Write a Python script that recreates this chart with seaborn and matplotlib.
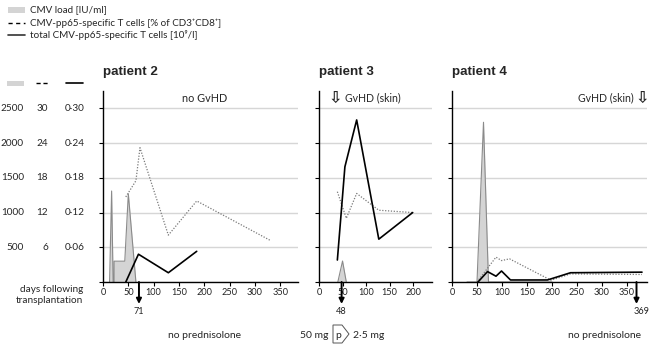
#!/usr/bin/env python3
# CMV load and CMV-pp65-specific T cells in three patients

import numpy as np
import pandas as pd
import matplotlib
matplotlib.use('Agg')
import matplotlib.pyplot as plt
import matplotlib.transforms as mtransforms
from matplotlib.lines import Line2D
from matplotlib.patches import Rectangle, Polygon
import seaborn as sns

sns.set_theme(style='ticks')
plt.rcParams['font.family'] = ['Lato', 'DejaVu Sans']

W, H = 650, 344

# ---- data ----
# patient 2
p2_load_day = [13, 17, 20, 22, 22, 43, 50, 65]
p2_load = [0, 1310, 0, 0, 300, 300, 1270, 0]              # IU/ml
p2_pct_day = [45, 65, 73, 129, 185, 330]
p2_pct = [14.7, 17.5, 23.2, 8.1, 14.0, 7.2]               # % of CD3+CD8+
p2_cell_day = [45, 70, 129, 185]
p2_cell = [0.0, 0.048, 0.016, 0.053]                      # 10^9/l

# patient 3
p3_load_day = [40, 50, 58]
p3_load = [0, 302, 0]
p3_pct_day = [39, 58, 80, 127, 199]
p3_pct = [15.6, 11.0, 15.3, 12.4, 12.0]
p3_cell_day = [39, 55, 80, 127, 199]
p3_cell = [0.038, 0.199, 0.280, 0.074, 0.120]

# patient 4
p4_load_day = [30, 50, 63, 73, 200]
p4_load = [0, 0, 2300, 0, 0]
p4_pct_day = [50, 88, 99, 115, 198, 237, 380]
p4_pct = [0.0, 4.3, 3.7, 4.0, 0.3, 1.4, 1.3]
p4_cell_day = [52, 71, 88, 99, 117, 191, 237, 380]
p4_cell = [0.0, 0.018, 0.010, 0.019, 0.0035, 0.0035, 0.016, 0.017]

load_ticks = [500, 1000, 1500, 2000, 2500]
pct_ticks = [6, 12, 18, 24, 30]
cell_ticks = [0.06, 0.12, 0.18, 0.24, 0.30]

titles = ['patient 2', 'patient 3', 'patient 4']
gvhd_day = [71, 48, 369]
xmax = [385, 240, 390]

PCT_SCALE = 2500 / 30
CELL_SCALE = 2500 / 0.30

def fx(px):
    return px / W

def fy(py):
    return 1 - py / H

fig = plt.figure(figsize=(6.5, 3.44), dpi=100)
bottom, height = fy(282), 191 / H
ax2 = fig.add_axes([fx(103), bottom, 195 / W, height])
ax3 = fig.add_axes([fx(319), bottom, 113 / W, height])
ax4 = fig.add_axes([fx(452), bottom, 195 / W, height])
axes = [ax2, ax3, ax4]

panels = [
    (p2_load_day, p2_load, p2_pct_day, p2_pct, p2_cell_day, p2_cell),
    (p3_load_day, p3_load, p3_pct_day, p3_pct, p3_cell_day, p3_cell),
    (p4_load_day, p4_load, p4_pct_day, p4_pct, p4_cell_day, p4_cell),
]

for i, (ax, pdata) in enumerate(zip(axes, panels)):
    ld, lv, pd_, pv, cd, cv = pdata
    ax.fill_between(ld, lv, color='#d4d4d4', lw=0, zorder=1)
    sns.lineplot(x=ld, y=lv, ax=ax, color='#8a8a8a', lw=0.8,
                 sort=False, estimator=None, zorder=2)
    sns.lineplot(x=pd_, y=np.array(pv) * PCT_SCALE, ax=ax, color='#7a7a7a',
                 lw=0.9, linestyle=(0, (1, 1.3)), sort=False, estimator=None, zorder=3)
    sns.lineplot(x=cd, y=np.array(cv) * CELL_SCALE, ax=ax, color='black',
                 lw=1.2, sort=False, estimator=None, zorder=4)

    ax.set_xlim(0, xmax[i])
    ax.set_ylim(0, 2750)
    ax.set_yticks([0] + load_ticks)
    ax.set_yticklabels([])
    ax.set_xticks(list(range(0, xmax[i] - 20, 50)))
    ax.tick_params(axis='both', direction='out', length=3, width=0.8,
                   colors='black', labelsize=6.6, pad=1.5)
    ax.tick_params(axis='x', labelcolor='#222222')
    ax.yaxis.grid(True, color='#d6d6d6', lw=1)
    ax.set_axisbelow(True)
    ax.set_xlabel('')
    ax.set_ylabel('')
    for s in ['top', 'right']:
        ax.spines[s].set_visible(False)
    for s in ['left', 'bottom']:
        ax.spines[s].set_color('black')
        ax.spines[s].set_linewidth(1)
        ax.spines[s].set_zorder(5)

    ax.text(0, 1.10, titles[i], transform=ax.transAxes, ha='left', va='center',
            fontsize=9.6, fontweight='bold', family=['Liberation Sans', 'DejaVu Sans'])

    # day of the event below the axis
    xt = ax.get_xaxis_transform()
    ax.annotate('', xy=(gvhd_day[i], -0.115), xytext=(gvhd_day[i], 0), xycoords=xt,
                textcoords=xt, annotation_clip=False,
                arrowprops=dict(arrowstyle='-|>', color='black', lw=1.4,
                                mutation_scale=7.5, shrinkA=0, shrinkB=0))
    if i == 2:
        ax.text(gvhd_day[i] + 26, -0.152, str(gvhd_day[i]), transform=xt,
                ha='right', va='center', fontsize=6.6, color='#222222')
    else:
        ax.text(gvhd_day[i], -0.152, str(gvhd_day[i]), transform=xt,
                ha='center', va='center', fontsize=6.6, color='#222222')

# GvHD notes
ax2.text(0.52, 0.963, 'no GvHD', transform=ax2.transAxes, ha='center', va='center', fontsize=7.8)
ax3.text(0.145, 0.963, '\u21e9', transform=ax3.transAxes, ha='center', va='center',
         fontsize=11.5, fontweight='bold', family='DejaVu Sans')
ax3.text(0.23, 0.963, 'GvHD (skin)', transform=ax3.transAxes, ha='left', va='center', fontsize=7.6)
ax4.text(0.975, 0.963, '\u21e9', transform=ax4.transAxes, ha='center', va='center',
         fontsize=11.5, fontweight='bold', family='DejaVu Sans')
ax4.text(0.93, 0.963, 'GvHD (skin)', transform=ax4.transAxes, ha='right', va='center', fontsize=7.6)

# three y-label columns on the left
tr = mtransforms.blended_transform_factory(fig.transFigure, ax2.transData)
for lv, pv, cv in zip(load_ticks, pct_ticks, cell_ticks):
    fig.text(fx(24), lv, str(lv), transform=tr, ha='right', va='center', fontsize=7.2)
    fig.text(fx(48), lv, str(pv), transform=tr, ha='right', va='center', fontsize=7.2)
    fig.text(fx(85), lv, f'{cv:.2f}'.replace('.', '\u00b7'), transform=tr,
             ha='right', va='center', fontsize=7.2)

fig.patches.append(Rectangle((fx(7), fy(86)), 17 / W, 5 / H, transform=fig.transFigure,
                             facecolor='#d4d4d4', edgecolor='none'))
fig.lines.append(Line2D([fx(36), fx(49)], [fy(83), fy(83)], transform=fig.transFigure,
                        color='black', lw=1, linestyle=(0, (3, 2))))
fig.lines.append(Line2D([fx(66), fx(83)], [fy(83), fy(83)], transform=fig.transFigure,
                        color='black', lw=1.2))

fig.text(fx(83), fy(295), 'days following\ntransplantation', ha='right', va='center',
         fontsize=7.2, linespacing=1.15)

# legend at the top
leg_labels = ['CMV load [IU/ml]',
              'CMV-pp65-specific T cells [% of CD3\u207aCD8\u207a]',
              'total CMV-pp65-specific T cells [10\u2079/l]']
rows = [10, 23, 35]
fig.patches.append(Rectangle((fx(8), fy(12.7)), 17 / W, 5.4 / H, transform=fig.transFigure,
                             facecolor='#d4d4d4', edgecolor='none'))
fig.lines.append(Line2D([fx(8), fx(25)], [fy(rows[1]), fy(rows[1])], transform=fig.transFigure,
                        color='black', lw=1, linestyle=(0, (3, 2.5))))
fig.lines.append(Line2D([fx(8), fx(25)], [fy(rows[2]), fy(rows[2])], transform=fig.transFigure,
                        color='#333333', lw=1.2))
for r, lab in zip(rows, leg_labels):
    fig.text(fx(30), fy(r), lab, ha='left', va='center', fontsize=7.1)

# prednisolone
fig.text(fx(205), fy(336), 'no prednisolone', ha='center', va='center', fontsize=7.5)
fig.text(fx(605), fy(336), 'no prednisolone', ha='center', va='center', fontsize=7.5)
fig.text(fx(328), fy(336), '50 mg', ha='right', va='center', fontsize=7.5)
fig.text(fx(338), fy(335), 'p', ha='center', va='center', fontsize=7.5)
fig.patches.append(Polygon([(fx(333), fy(325)), (fx(342), fy(325)), (fx(349), fy(334)),
                            (fx(342), fy(343)), (fx(333), fy(343))], closed=True,
                           transform=fig.transFigure, facecolor='none',
                           edgecolor='#555555', lw=0.7))
fig.text(fx(353), fy(336), '2\u00b75 mg', ha='left', va='center', fontsize=7.5)

fig.savefig('out.png', dpi=100)
